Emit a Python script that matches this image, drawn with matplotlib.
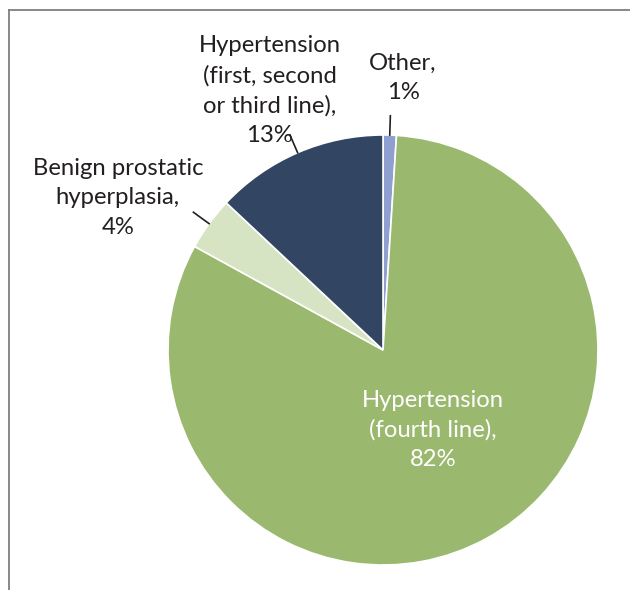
import numpy as np
import matplotlib
matplotlib.use('Agg')
import matplotlib.pyplot as plt
from matplotlib.lines import Line2D

# -------------------------------------------------------------------------
labels = ['Other,\n1%',
          'Hypertension\n(fourth line),\n82%',
          'Benign prostatic\nhyperplasia,\n4%',
          'Hypertension\n(first, second\nor third line),\n13%']
shares = [1, 82, 4, 13]
colors = ['#8E9FD0', '#9BB86F', '#D7E4C4', '#324664']
# -------------------------------------------------------------------------

W, H = 630, 590
fig = plt.figure(figsize=(W / 100, H / 100), dpi=100)

# pie centre at (383, 350) px, radius 215 px
cx, cy, r = 383, 350, 215
ax = fig.add_axes([(cx - r) / W, (H - cy - r) / H, 2 * r / W, 2 * r / H])

wedges, _ = ax.pie(shares, colors=colors, startangle=90, counterclock=False,
                   radius=1, wedgeprops=dict(edgecolor='white', linewidth=1.2))
ax.set_xlim(-1, 1)
ax.set_ylim(-1, 1)
ax.set_aspect('equal')
ax.axis('off')

font = dict(family=['Lato', 'DejaVu Sans'], fontsize=17.2, ha='center', va='center',
            linespacing=1.5)

# label positions in pie units (layout only)
label_pos = [(0.093, 1.265), (0.233, -0.372), (-1.233, 0.707), (-0.526, 1.205)]
text_col = ['#231F20', 'white', '#231F20', '#231F20']
for lab, (x, y), c in zip(labels, label_pos, text_col):
    ax.text(x, y, lab, color=c, clip_on=False, **font)

# leader lines for the outside labels
for i in [0, 2, 3]:
    w = wedges[i]
    ang = np.deg2rad((w.theta1 + w.theta2) / 2)
    r0, r1 = 1.0, 1.09
    ax.plot([r0 * np.cos(ang), r1 * np.cos(ang)],
            [r0 * np.sin(ang), r1 * np.sin(ang)],
            color='#231F20', lw=1.2, clip_on=False)

# partial frame (top and left edges)
fx, fy = 8.5 / W, 1 - 9.5 / H
fig.add_artist(Line2D([fx, fx], [0, fy], color='#7F7F7F', lw=1.3))
fig.add_artist(Line2D([fx, 1], [fy, fy], color='#7F7F7F', lw=1.3))

fig.savefig('out.png', dpi=100)
